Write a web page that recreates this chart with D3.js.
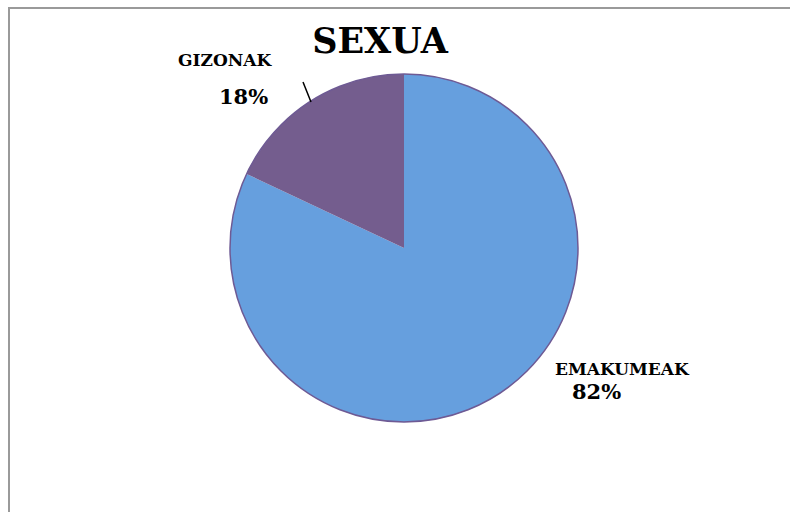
<!DOCTYPE html>
<html><head><meta charset="utf-8">
<script src="https://cdn.jsdelivr.net/npm/d3@7"></script>
<style>body{margin:0;background:#fff;}svg{display:block;}</style>
</head><body>
<svg id="c" width="790" height="512"></svg>
<script>
const title = "SEXUA";
const categories = ["EMAKUMEAK", "GIZONAK"];
const values = [82, 18];
const percentLabels = ["82%", "18%"];
const colors = ["#669FDE", "#745D8E"];

const svg = d3.select("#c");
svg.append("rect").attr("x", 9).attr("y", 8).attr("width", 800).attr("height", 520)
  .attr("fill", "none").attr("stroke", "#9a9a9a").attr("stroke-width", 2);

const cx = 404, cy = 248, r = 174;
const data = categories.map((c, i) => ({cat: c, value: values[i], label: percentLabels[i], color: colors[i]}));
const pie = d3.pie().value(d => d.value).sort(null);
const arc = d3.arc().innerRadius(0).outerRadius(r);
const g = svg.append("g").attr("transform", `translate(${cx},${cy})`);
const arcs = pie(data);
g.selectAll("path.slice").data(arcs).enter().append("path")
  .attr("class", "slice").attr("d", arc).attr("fill", d => d.data.color);
g.append("circle").attr("r", r).attr("fill", "none").attr("stroke", "#6E5A94").attr("stroke-width", 1.5);

const font = "DejaVu Serif";
svg.append("text").attr("x", 380).attr("y", 53).attr("text-anchor", "middle")
  .attr("font-family", font).attr("font-weight", "bold").attr("font-size", 35)
  .attr("fill", "#000").text(title);

// EMAKUMEAK
const a0 = arcs[0];
svg.append("text").attr("x", 555).attr("y", 375).attr("font-family", font).attr("font-weight", "bold")
  .attr("font-size", 17).attr("fill", "#000").text(a0.data.cat);
svg.append("text").attr("x", 572).attr("y", 399).attr("font-family", font).attr("font-weight", "bold")
  .attr("font-size", 21).attr("fill", "#000").text(a0.data.label);
// GIZONAK
const a1 = arcs[1];
svg.append("text").attr("x", 178).attr("y", 66).attr("font-family", font).attr("font-weight", "bold")
  .attr("font-size", 17).attr("fill", "#000").text(a1.data.cat);
svg.append("text").attr("x", 219).attr("y", 104).attr("font-family", font).attr("font-weight", "bold")
  .attr("font-size", 21).attr("fill", "#000").text(a1.data.label);
// leader line
svg.append("line").attr("x1", 303).attr("y1", 82).attr("x2", 311).attr("y2", 102)
  .attr("stroke", "#000").attr("stroke-width", 1.5);
</script>
</body></html>
